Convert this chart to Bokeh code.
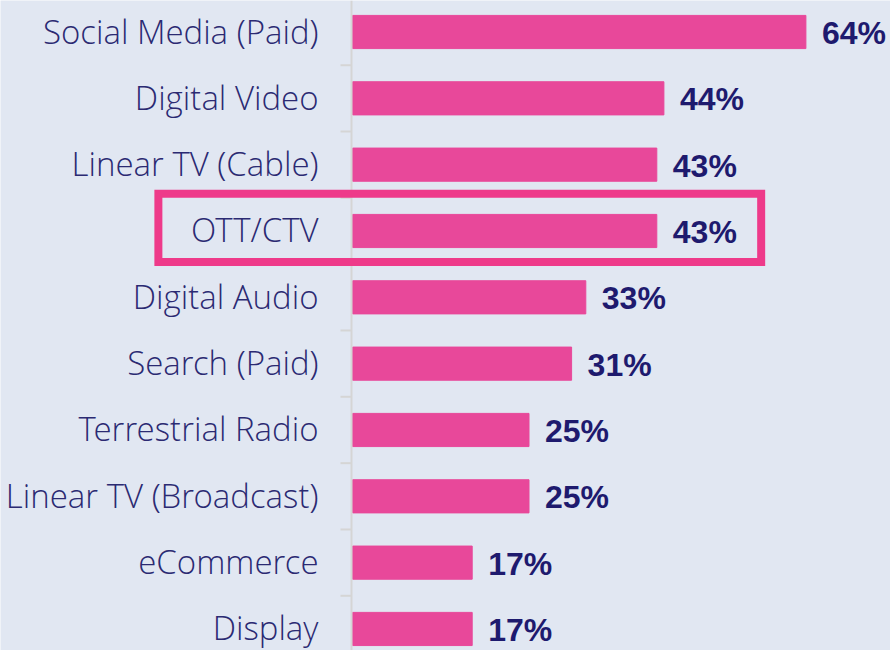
from bokeh.plotting import figure
from bokeh.models import Range1d, BoxAnnotation, ColumnDataSource, Span
from bokeh.embed import file_html
from bokeh.resources import INLINE
from bokeh.core.properties import value

categories = ["Social Media (Paid)", "Digital Video", "Linear TV (Cable)", "OTT/CTV",
              "Digital Audio", "Search (Paid)", "Terrestrial Radio",
              "Linear TV (Broadcast)", "eCommerce", "Display"]
shares = [64, 44, 43, 43, 33, 31, 25, 25, 17, 17]
highlighted = "OTT/CTV"

BG = "#e1e7f2"
BAR = "#e8489a"
NAVY = "#1e1a6e"
LABEL = "#2b2a72"
AXIS = "#d5d5d5"
HILITE = "#ee3a8a"

W, H = 890, 650
AXIS_PX = 351          # screen x of the value axis
PX_PER_UNIT = 7.1      # pixels per percentage point
ROW0_PX = 31.5         # screen y of first row centre
ROW_PX = 66.33         # row pitch

positions = list(range(len(categories)))
labels = [f"{v}%" for v in shares]
src = ColumnDataSource(dict(y=positions, right=shares, label=labels,
                            cat=categories, zero=[0] * len(categories)))

x_start = -AXIS_PX / PX_PER_UNIT
x_end = (W - AXIS_PX) / PX_PER_UNIT
y_top = -ROW0_PX / ROW_PX
y_bottom = (H - ROW0_PX) / ROW_PX

p = figure(width=W, height=H, output_backend="svg", toolbar_location=None,
           x_range=Range1d(x_start, x_end), y_range=Range1d(y_bottom, y_top),
           x_axis_location=None, y_axis_location=None,
           min_border_left=0, min_border_right=0,
           min_border_top=0, min_border_bottom=0)
p.background_fill_color = BG
p.border_fill_color = BG
p.outline_line_color = None
p.xgrid.visible = False
p.ygrid.visible = False

# value axis line and category separator ticks
p.add_layout(Span(location=0, dimension="height", line_color=AXIS, line_width=2))
bounds = [i + 0.5 for i in range(-1, len(categories))]
tick_len = 11 / PX_PER_UNIT
p.segment(x0=[-tick_len] * len(bounds), x1=[0] * len(bounds), y0=bounds, y1=bounds,
          line_color=AXIS, line_width=2)

p.hbar(y="y", right="right", left=0.15, height=0.5, color=BAR, source=src)

p.text(x="right", y="y", text="label", x_offset=16, y_offset=1,
       text_baseline="middle", text_align="left",
       text_font=value("Liberation Sans"), text_font_style="bold",
       text_font_size="32px", text_color=NAVY, source=src)

p.text(x="zero", y="y", text="cat", x_offset=-33, y_offset=-1,
       text_baseline="middle", text_align="right",
       text_font=value("Open Sans Light"), text_font_size="33px",
       text_color=LABEL, source=src)

idx = categories.index(highlighted)
box = BoxAnnotation(left=-27.2, right=shares[idx] + 14.7,
                    top=idx - 0.56, bottom=idx + 0.467,
                    fill_color=None, fill_alpha=0, line_color=HILITE,
                    line_alpha=1.0, line_width=8, line_join="miter")
p.add_layout(box)

open("out.html", "w").write(file_html(p, INLINE))
